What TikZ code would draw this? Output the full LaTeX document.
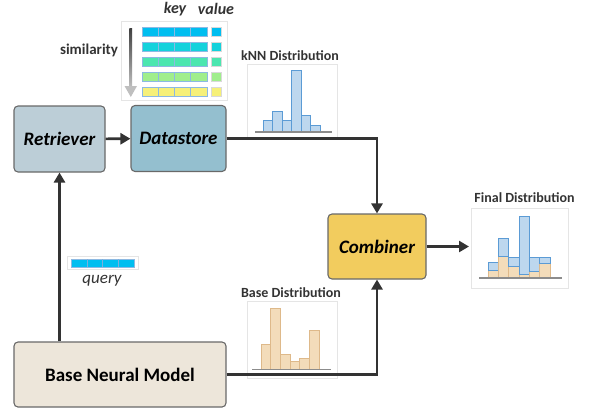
\documentclass[tikz,border=0pt]{standalone}
\usepackage{fontspec}
\setmainfont{Carlito}
\usetikzlibrary{positioning,calc,arrows.meta}
\definecolor{myretr}{RGB}{188,206,215}
\definecolor{mystore}{RGB}{148,191,207}
\definecolor{mycomb}{RGB}{242,204,94}
\definecolor{mybase}{RGB}{237,230,218}
\definecolor{mydark}{RGB}{51,51,51}
\definecolor{myedge}{RGB}{105,105,105}
\definecolor{mybarb}{RGB}{189,215,238}
\definecolor{mybarbd}{RGB}{91,155,213}
\definecolor{mybaro}{RGB}{243,220,186}
\definecolor{mybarod}{RGB}{222,185,138}
\definecolor{rowa}{RGB}{0,190,240}
\definecolor{rowb}{RGB}{20,210,220}
\definecolor{rowc}{RGB}{75,230,175}
\definecolor{rowd}{RGB}{160,238,140}
\definecolor{rowe}{RGB}{246,240,120}

\begin{document}
\begin{tikzpicture}[x=1pt,y=-1pt,
	box/.style={
		draw=myedge,
		line width=1.1pt,
		rounded corners=4pt,
		minimum height=66pt,
		font={\fontsize{19}{21}\selectfont\itshape\bfseries},
		align=center},
	conn/.style={draw=mydark,line width=2.6pt,
		-{Triangle[length=10pt,width=11pt]}},
	frame/.style={draw=black!10,line width=0.5pt},
	title/.style={font={\fontsize{14}{16}\selectfont\bfseries},text=mydark},
	bbar/.style={draw=mybarbd,fill=mybarb,line width=0.9pt},
	obar/.style={draw=mybarod,fill=mybaro,line width=0.9pt},
	axis/.style={draw=black!45,line width=1.6pt},
	cell/.style={draw=mybarbd!70,line width=0.4pt},
	]
	\useasboundingbox (0,0) rectangle (591,410);

	% main blocks
	\node[box,fill=myretr,minimum width=91pt] (RET) at (59.5,139) {Retriever};
	\node[box,fill=mystore,minimum width=95pt] (DS) at (178.5,138.5) {Datastore};
	\node[box,fill=mycomb,minimum width=98pt,minimum height=65pt] (COMB) at (377,246.5) {Combiner};
	\node[box,fill=mybase,minimum width=212pt,minimum height=65pt,
		font={\fontsize{19}{21}\selectfont\bfseries}] (BNM) at (120,374.5) {Base Neural Model};

	% datastore table
	\draw[frame] (121.5,21.5) rectangle (227.5,100.5);
	\foreach \c [count=\r from 0] in {rowa,rowb,rowc,rowd,rowe}{
		\foreach \k in {0,1,2,3}
			\draw[cell,fill=\c] (142+16.2*\k,26.7+15*\r) rectangle (142+16.2*\k+16.2,36+15*\r);
		\draw[draw=black!15,fill=\c] (211.5,26.7+15*\r) rectangle (221.5,36+15*\r);
	}
	\shade[top color=black!75,bottom color=black!25] (129.4,28) rectangle (132.2,88);
	\fill[black!25] (124.5,86) -- (137,86) -- (130.8,97) -- cycle;
	\node[title,font={\fontsize{16}{17}\selectfont\itshape\bfseries}] (KEY) at (175,9) {key};
	\node[title,font={\fontsize{16}{17}\selectfont\itshape\bfseries}] (VAL) at (216,9) {value};
	\node[title,font={\fontsize{15}{16}\selectfont\bfseries}] (SIM) at (89,50) {similarity};

	% kNN distribution
	\node[title] (KNN) at (290,56) {kNN Distribution};
	\draw[frame] (247,64) rectangle (337,138);
	\foreach \t [count=\i from 0] in {120,111,120,70.7,115,125}
		\draw[bbar] (263.3+9.45*\i,131.7) rectangle (263.3+9.45*\i+9.45,\t);
	\draw[axis] (255,131.7) -- (332,131.7);

	% base distribution
	\node[title] (BASED) at (291,293) {Base Distribution};
	\draw[frame] (247,301) rectangle (337,378);
	\foreach \t [count=\i from 0] in {344,308.3,354,361,358.3,330.7}
		\draw[obar] (261+9.72*\i,369.3) rectangle (261+9.72*\i+9.72,\t);
	\draw[axis] (252.3,369.3) -- (330.7,369.3);

	% final distribution
	\node[title] (FIN) at (524.5,198) {Final Distribution};
	\draw[frame] (471.7,208) rectangle (568,288);
	\foreach \o/\b [count=\i from 0] in {270.7/262.3,256.7/238.3,266.7/257.7,274.3/216.7,271/257.7,263.3/257.7}{
		\draw[obar] (488.3+10.28*\i,277.7) rectangle (488.3+10.28*\i+10.28,\o);
		\draw[bbar] (488.3+10.28*\i,\o) rectangle (488.3+10.28*\i+10.28,\b);
	}
	\draw[axis] (479,277.7) -- (561.7,277.7);

	% query vector
	\draw[frame] (67.3,256) rectangle (138,269);
	\draw[cell,fill=rowa] (71,259) rectangle (134,266.7);
	\foreach \k in {1,2,3}
		\draw[mybarbd!80,line width=0.4pt] (71+15.75*\k,259) -- (71+15.75*\k,266.7);
	\node[title,font={\fontsize{17}{18}\selectfont\itshape}] (Q) at (102,280.5) {query};

	% connectors
	\draw[conn] (RET) -- (DS);
	\draw[conn] (BNM.north -| RET) -- (RET);
	\draw[conn] (DS.east) -| (COMB.north);
	\draw[conn] (BNM.east) -| (COMB.south);
	\coordinate (OUT) at (469,246.5);
	\draw[conn] (COMB) -- (OUT);
\end{tikzpicture}
\end{document}
